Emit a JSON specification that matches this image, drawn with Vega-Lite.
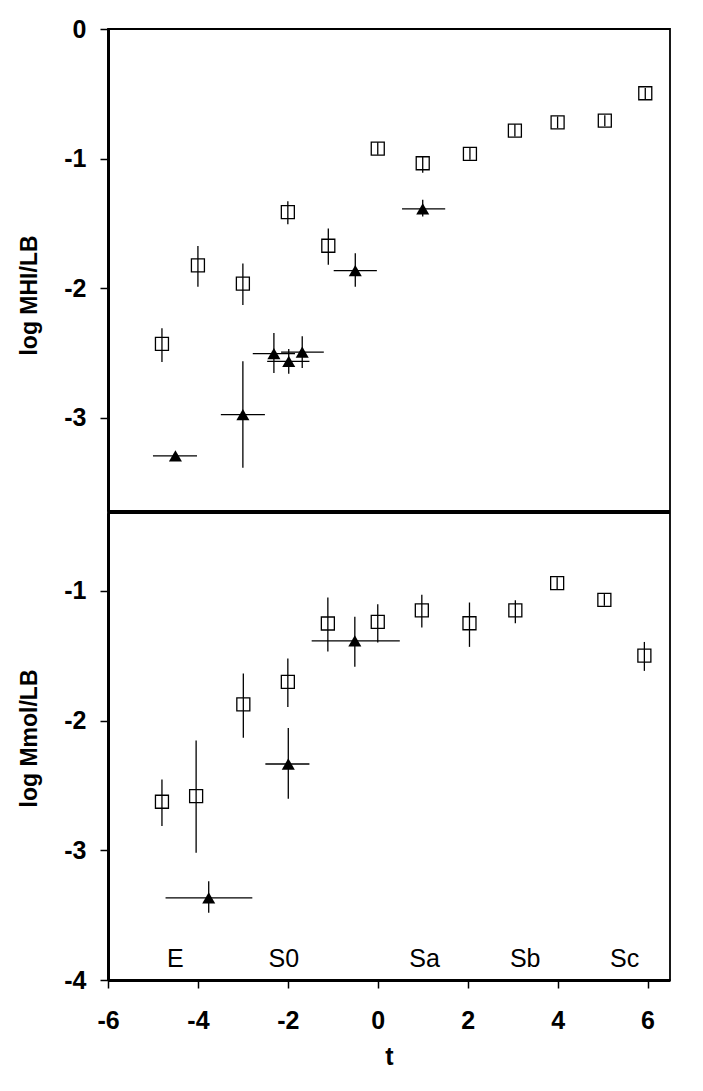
{
  "$schema": "https://vega.github.io/schema/vega-lite/v6.json",
  "background": "white",
  "padding": {"left": 17, "top": 16, "right": 5, "bottom": 5},
  "spacing": 0,
  "config": {
    "view": {"stroke": "#000", "strokeWidth": 1.8},
    "font": "Liberation Sans",
    "concat": {"spacing": 0},
    "axis": {
      "domainColor": "#000", "domainWidth": 3, "tickColor": "#000", "tickWidth": 1.5, "tickSize": 8,
      "grid": false, "labelFont": "Liberation Sans", "labelFontWeight": "bold", "labelFontSize": 25,
      "labelColor": "#000", "titleFont": "Liberation Sans", "titleFontWeight": "bold", "titleColor": "#000"
    }
  },
  "datasets": {
    "hiSq": [
      {"t": -4.8, "v": -2.43, "lo": -2.57, "hi": -2.31},
      {"t": -4.0, "v": -1.825, "lo": -1.99, "hi": -1.675},
      {"t": -3.0, "v": -1.965, "lo": -2.13, "hi": -1.81},
      {"t": -2.0, "v": -1.413, "lo": -1.506, "hi": -1.33},
      {"t": -1.1, "v": -1.673, "lo": -1.82, "hi": -1.54},
      {"t": 0.0, "v": -0.923, "lo": -0.97, "hi": -0.875},
      {"t": 1.0, "v": -1.036, "lo": -1.11, "hi": -0.98},
      {"t": 2.05, "v": -0.964, "lo": -1.01, "hi": -0.915},
      {"t": 3.05, "v": -0.784, "lo": -0.83, "hi": -0.735},
      {"t": 4.0, "v": -0.72, "lo": -0.765, "hi": -0.675},
      {"t": 5.05, "v": -0.707, "lo": -0.75, "hi": -0.665},
      {"t": 5.95, "v": -0.496, "lo": -0.54, "hi": -0.455}
    ],
    "hiTri": [
      {"t": -4.5, "v": -3.295, "lo": -3.31, "hi": -3.28, "tlo": -5.0, "thi": -4.02},
      {"t": -3.0, "v": -2.976, "lo": -3.387, "hi": -2.565, "tlo": -3.49, "thi": -2.51},
      {"t": -2.31, "v": -2.505, "lo": -2.655, "hi": -2.346, "tlo": -2.78, "thi": -1.84},
      {"t": -1.98, "v": -2.565, "lo": -2.66, "hi": -2.47, "tlo": -2.46, "thi": -1.52},
      {"t": -1.68, "v": -2.494, "lo": -2.616, "hi": -2.372, "tlo": -2.15, "thi": -1.2},
      {"t": -0.5, "v": -1.865, "lo": -1.99, "hi": -1.73, "tlo": -0.98, "thi": -0.02},
      {"t": 1.0, "v": -1.388, "lo": -1.447, "hi": -1.318, "tlo": 0.54, "thi": 1.5}
    ],
    "molSq": [
      {"t": -4.8, "v": -2.626, "lo": -2.813, "hi": -2.454},
      {"t": -4.04, "v": -2.582, "lo": -3.019, "hi": -2.153},
      {"t": -2.99, "v": -1.875, "lo": -2.132, "hi": -1.638},
      {"t": -2.0, "v": -1.702, "lo": -1.895, "hi": -1.522},
      {"t": -1.11, "v": -1.252, "lo": -1.468, "hi": -1.052},
      {"t": 0.0, "v": -1.239, "lo": -1.399, "hi": -1.103},
      {"t": 0.98, "v": -1.15, "lo": -1.283, "hi": -1.031},
      {"t": 2.04, "v": -1.25, "lo": -1.432, "hi": -1.09},
      {"t": 3.06, "v": -1.15, "lo": -1.25, "hi": -1.072},
      {"t": 3.99, "v": -0.94, "lo": -0.985, "hi": -0.895},
      {"t": 5.04, "v": -1.07, "lo": -1.115, "hi": -1.025},
      {"t": 5.93, "v": -1.5, "lo": -1.617, "hi": -1.394}
    ],
    "molTri": [
      {"t": -3.76, "v": -3.367, "lo": -3.482, "hi": -3.238, "tlo": -4.72, "thi": -2.79},
      {"t": -1.99, "v": -2.335, "lo": -2.603, "hi": -2.057, "tlo": -2.5, "thi": -1.52},
      {"t": -0.51, "v": -1.385, "lo": -1.586, "hi": -1.2, "tlo": -1.47, "thi": 0.49}
    ],
    "types": [
      {"t": -4.5, "v": -3.9, "label": "E"},
      {"t": -2.09, "v": -3.9, "label": "S0"},
      {"t": 1.04, "v": -3.9, "label": "Sa"},
      {"t": 3.28, "v": -3.9, "label": "Sb"},
      {"t": 5.49, "v": -3.9, "label": "Sc"}
    ]
  },
  "vconcat": [
    {
      "width": 562,
      "height": 482,
      "layer": [
        {
          "data": {"name": "hiSq"},
          "mark": {"type": "rule", "color": "#000", "strokeWidth": 1.3},
          "encoding": {
            "x": {"field": "t", "type": "quantitative", "scale": {"domain": [-6, 6.5], "nice": false, "zero": false}, "axis": null},
            "y": {"field": "lo", "type": "quantitative", "scale": {"domain": [-3.72, 0], "nice": false, "zero": false}, "title": "log MHI/LB"},
            "y2": {"field": "hi"}
          }
        },
        {
          "data": {"name": "hiTri"},
          "mark": {"type": "rule", "color": "#000", "strokeWidth": 1.3},
          "encoding": {
            "x": {"field": "t", "type": "quantitative", "scale": {"domain": [-6, 6.5], "nice": false, "zero": false}, "axis": null},
            "y": {"field": "lo", "type": "quantitative", "scale": {"domain": [-3.72, 0], "nice": false, "zero": false}, "title": "log MHI/LB"},
            "y2": {"field": "hi"}
          }
        },
        {
          "data": {"name": "hiTri"},
          "mark": {"type": "rule", "color": "#000", "strokeWidth": 1.3},
          "encoding": {
            "x": {"field": "tlo", "type": "quantitative", "scale": {"domain": [-6, 6.5], "nice": false, "zero": false}, "axis": null},
            "x2": {"field": "thi"},
            "y": {"field": "v", "type": "quantitative", "scale": {"domain": [-3.72, 0], "nice": false, "zero": false}, "title": "log MHI/LB"}
          }
        },
        {
          "data": {"name": "hiSq"},
          "mark": {"type": "point", "shape": "square", "filled": false, "stroke": "#000", "strokeWidth": 1.3, "size": 169, "opacity": 1},
          "encoding": {
            "x": {"field": "t", "type": "quantitative", "scale": {"domain": [-6, 6.5], "nice": false, "zero": false}, "axis": null},
            "y": {"field": "v", "type": "quantitative", "scale": {"domain": [-3.72, 0], "nice": false, "zero": false}, "title": "log MHI/LB",
              "axis": {"values": [0, -1, -2, -3], "labelPadding": 14, "titlePadding": 22, "titleFontSize": 23, "titleY": 266, "labelExpr": "replace(format(datum.value, 'd'), '−', '-')"}}
          }
        },
        {
          "data": {"name": "hiTri"},
          "mark": {"type": "point", "shape": "triangle-up", "filled": true, "color": "#000", "size": 170, "opacity": 1},
          "encoding": {
            "x": {"field": "t", "type": "quantitative", "scale": {"domain": [-6, 6.5], "nice": false, "zero": false}, "axis": null},
            "y": {"field": "v", "type": "quantitative", "scale": {"domain": [-3.72, 0], "nice": false, "zero": false}, "title": "log MHI/LB"}
          }
        }
      ]
    },
    {
      "width": 562,
      "height": 467,
      "layer": [
        {
          "data": {"name": "molSq"},
          "mark": {"type": "rule", "color": "#000", "strokeWidth": 1.3},
          "encoding": {
            "x": {"field": "t", "type": "quantitative", "scale": {"domain": [-6, 6.5], "nice": false, "zero": false}, "title": "t"},
            "y": {"field": "lo", "type": "quantitative", "scale": {"domain": [-4, -0.4], "nice": false, "zero": false}, "title": "log Mmol/LB"},
            "y2": {"field": "hi"}
          }
        },
        {
          "data": {"name": "molTri"},
          "mark": {"type": "rule", "color": "#000", "strokeWidth": 1.3},
          "encoding": {
            "x": {"field": "t", "type": "quantitative", "scale": {"domain": [-6, 6.5], "nice": false, "zero": false}, "title": "t"},
            "y": {"field": "lo", "type": "quantitative", "scale": {"domain": [-4, -0.4], "nice": false, "zero": false}, "title": "log Mmol/LB"},
            "y2": {"field": "hi"}
          }
        },
        {
          "data": {"name": "molTri"},
          "mark": {"type": "rule", "color": "#000", "strokeWidth": 1.3},
          "encoding": {
            "x": {"field": "tlo", "type": "quantitative", "scale": {"domain": [-6, 6.5], "nice": false, "zero": false}, "title": "t"},
            "x2": {"field": "thi"},
            "y": {"field": "v", "type": "quantitative", "scale": {"domain": [-4, -0.4], "nice": false, "zero": false}, "title": "log Mmol/LB"}
          }
        },
        {
          "data": {"name": "types"},
          "mark": {"type": "text", "font": "Liberation Sans", "fontSize": 25, "baseline": "alphabetic", "align": "center", "color": "#000"},
          "encoding": {
            "x": {"field": "t", "type": "quantitative", "scale": {"domain": [-6, 6.5], "nice": false, "zero": false}, "title": "t"},
            "y": {"field": "v", "type": "quantitative", "scale": {"domain": [-4, -0.4], "nice": false, "zero": false}, "title": "log Mmol/LB"},
            "text": {"field": "label"}
          }
        },
        {
          "data": {"name": "molSq"},
          "mark": {"type": "point", "shape": "square", "filled": false, "stroke": "#000", "strokeWidth": 1.3, "size": 169, "opacity": 1},
          "encoding": {
            "x": {"field": "t", "type": "quantitative", "scale": {"domain": [-6, 6.5], "nice": false, "zero": false}, "title": "t",
              "axis": {"values": [-6, -4, -2, 0, 2, 4, 6], "labelPadding": 20, "titlePadding": 11, "titleFontSize": 25, "labelFlush": false, "labelExpr": "replace(format(datum.value, 'd'), '−', '-')"}},
            "y": {"field": "v", "type": "quantitative", "scale": {"domain": [-4, -0.4], "nice": false, "zero": false}, "title": "log Mmol/LB",
              "axis": {"values": [-1, -2, -3, -4], "labelPadding": 14, "titlePadding": 22, "titleFontSize": 23, "titleY": 225, "labelExpr": "replace(format(datum.value, 'd'), '−', '-')"}}
          }
        },
        {
          "data": {"name": "molTri"},
          "mark": {"type": "point", "shape": "triangle-up", "filled": true, "color": "#000", "size": 170, "opacity": 1},
          "encoding": {
            "x": {"field": "t", "type": "quantitative", "scale": {"domain": [-6, 6.5], "nice": false, "zero": false}, "title": "t"},
            "y": {"field": "v", "type": "quantitative", "scale": {"domain": [-4, -0.4], "nice": false, "zero": false}, "title": "log Mmol/LB"}
          }
        }
      ]
    }
  ]
}
